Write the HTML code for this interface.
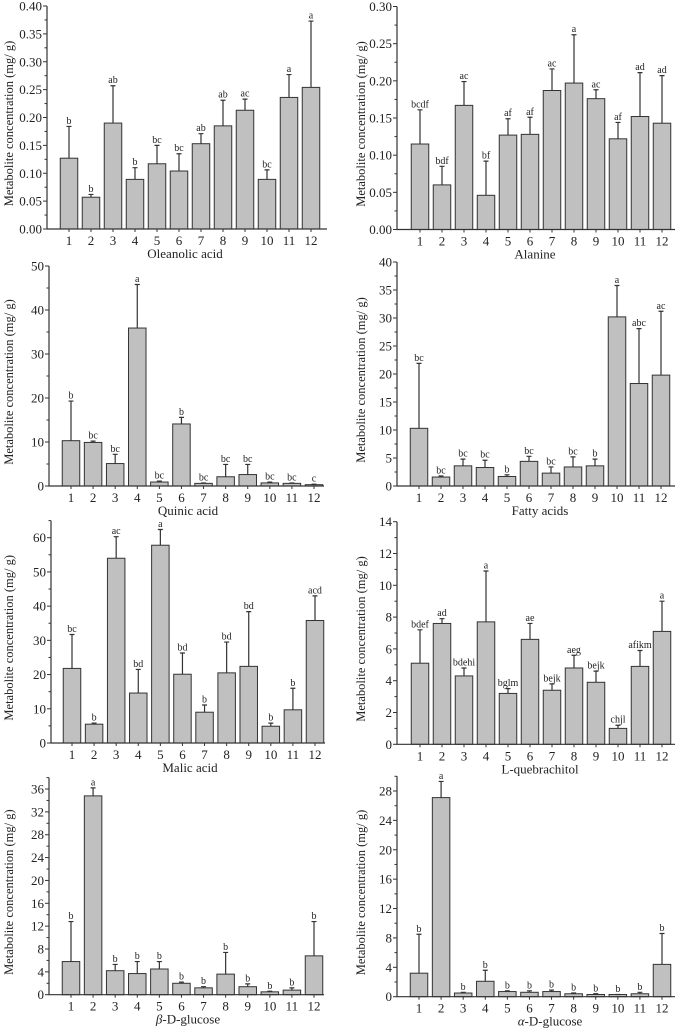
<!DOCTYPE html>
<html><head><meta charset="utf-8">
<style>
html,body{margin:0;padding:0;background:#fff;}
svg{display:block;font-family:"Liberation Serif","Times New Roman",serif;}
</style></head>
<body>
<svg id="fig" width="675" height="1029" viewBox="0 0 675 1029" xmlns="http://www.w3.org/2000/svg"></svg>
<script>
const categories = ["1","2","3","4","5","6","7","8","9","10","11","12"];
const titles = ["Oleanolic acid","Alanine","Quinic acid","Fatty acids","Malic acid","L-quebrachitol","β-D-glucose","α-D-glucose"];
const oleanolicMeans = [0.127,0.057,0.19,0.089,0.117,0.104,0.153,0.185,0.213,0.089,0.236,0.254];
const oleanolicErr = [0.184,0.062,0.257,0.110,0.150,0.135,0.171,0.231,0.233,0.106,0.277,0.373];
const oleanolicLetters = ["b","b","ab","b","bc","bc","ab","ab","ac","bc","a","a"];
const alanineMeans = [0.115,0.060,0.167,0.046,0.127,0.128,0.187,0.197,0.176,0.122,0.152,0.143];
const alanineErr = [0.161,0.085,0.199,0.092,0.149,0.151,0.216,0.262,0.188,0.144,0.211,0.207];
const alanineLetters = ["bcdf","bdf","ac","bf","af","af","ac","a","ac","af","ad","ad"];
const quinicMeans = [10.3,9.9,5.1,35.9,0.9,14.1,0.6,2.1,2.6,0.7,0.6,0.3];
const quinicErr = [19.3,10.2,7.2,45.8,1.1,15.6,0.7,4.9,4.9,0.9,0.7,0.4];
const quinicLetters = ["b","bc","bc","a","bc","b","bc","bc","bc","bc","bc","c"];
const fattyMeans = [10.3,1.6,3.6,3.3,1.7,4.4,2.3,3.4,3.6,30.2,18.3,19.8];
const fattyErr = [21.9,1.8,4.8,4.6,2.0,5.3,3.4,5.2,4.8,35.8,28.1,31.2];
const fattyLetters = ["bc","bc","bc","bc","b","bc","bc","bc","b","a","abc","ac"];
const malicMeans = [21.8,5.5,54,14.6,57.8,20.1,9.0,20.5,22.4,4.9,9.7,35.8];
const malicErr = [31.7,5.8,60.3,21.5,62.4,26.3,11.1,29.5,38.4,5.8,16.0,43.0];
const malicLetters = ["bc","b","ac","bd","a","bd","b","bd","bd","b","b","acd"];
const quebMeans = [5.1,7.6,4.3,7.7,3.2,6.6,3.4,4.8,3.9,1.0,4.9,7.1];
const quebErr = [7.2,7.9,4.8,10.9,3.5,7.6,3.8,5.6,4.6,1.2,5.9,9.0];
const quebLetters = ["bdef","ad","bdehi","a","bglm","ae","bejk","aeg","bejk","chjl","afikm","a"];
const betaMeans = [5.8,34.8,4.2,3.7,4.5,2.0,1.2,3.6,1.4,0.5,0.8,6.8];
const betaErr = [12.8,36.2,5.3,5.8,5.8,2.2,1.4,7.4,1.9,0.6,1.2,12.8];
const betaLetters = ["b","a","b","b","b","b","b","b","b","b","b","b"];
const alphaMeans = [3.2,27.1,0.5,2.1,0.7,0.6,0.7,0.4,0.3,0.3,0.4,4.4];
const alphaErr = [8.5,29.3,0.6,3.6,0.8,0.8,0.9,0.5,0.4,0.3,0.6,8.6];
const alphaLetters = ["b","a","b","b","b","b","b","b","b","b","b","b"];
const yTickSteps = [0.05,0.05,10,5,10,2,4,4];
const yMaxes = [0.40,0.30,50,40,65,14,38,30];

const NS="http://www.w3.org/2000/svg";
const svg=document.getElementById('fig');
function mk(tag,attrs,parent){const e=document.createElementNS(NS,tag);for(const k in attrs)e.setAttribute(k,attrs[k]);(parent||svg).appendChild(e);return e;}

const panels=[
 {m:oleanolicMeans,e:oleanolicErr,l:oleanolicLetters,x0:47,xEnd:327,yb:229,yt:6,b1:69,b12:311,tx:185,yl:9,dec:2},
 {m:alanineMeans,e:alanineErr,l:alanineLetters,x0:397,xEnd:675,yb:229.5,yt:6.5,b1:420,b12:662,tx:535,yl:361,dec:2},
 {m:quinicMeans,e:quinicErr,l:quinicLetters,x0:49,xEnd:324,yb:486,yt:266,b1:71,b12:314,tx:188,yl:9,dec:0},
 {m:fattyMeans,e:fattyErr,l:fattyLetters,x0:397,xEnd:675,yb:486,yt:262,b1:419,b12:661,tx:540,yl:361,dec:0},
 {m:malicMeans,e:malicErr,l:malicLetters,x0:51,xEnd:325,yb:743,yt:520.6,b1:72,b12:315,tx:190,yl:9,dec:0},
 {m:quebMeans,e:quebErr,l:quebLetters,x0:397,xEnd:675,yb:744.3,yt:521.7,b1:420,b12:662,tx:540,yl:361,dec:0},
 {m:betaMeans,e:betaErr,l:betaLetters,x0:49,xEnd:324,yb:994.7,yt:777.6,b1:71,b12:314,tx:188,yl:9,dec:0},
 {m:alphaMeans,e:alphaErr,l:alphaLetters,x0:397,xEnd:675,yb:996.7,yt:776.3,b1:419,b12:662,tx:550,yl:361,dec:0}
];

panels.forEach((p,pi)=>{
  const g=mk('g',{});
  
  
  const max=yMaxes[pi], step=yTickSteps[pi];
  const y=v=>p.yb-(v/max)*(p.yb-p.yt);
  const x=i=>p.b1+i*(p.b12-p.b1)/(categories.length-1);
  const bw=17.5;
  p.m.forEach((v,i)=>{
    const r=mk('rect',{x:x(i)-bw/2,y:y(v),width:bw,height:p.yb-y(v),fill:'#c0c0c0',stroke:'#333','stroke-width':1},g);
    
    
    const et=y(p.e[i]);
    const eb=mk('path',{d:`M${x(i)} ${y(v)}V${et}M${x(i)-2.5} ${et}H${x(i)+2.5}`,stroke:'#333','stroke-width':1.2,fill:'none'},g);
    
    
    const t=mk('text',{x:x(i),y:et-2.5,'font-size':10,'text-anchor':'middle',fill:'#222'},g);
    t.textContent=p.l[i];
    
    
    const xt=mk('text',{x:x(i),y:p.yb+16,'font-size':13,'text-anchor':'middle',fill:'#222'},g);
    xt.textContent=categories[i];
    
    
    mk('line',{x1:x(i),x2:x(i),y1:p.yb,y2:p.yb+3,stroke:'#333','stroke-width':1},g);
  });
  const ax=mk('path',{d:`M${p.x0} ${p.yt}V${p.yb}H${p.xEnd}`,stroke:'#333','stroke-width':1.2,fill:'none'},g);
  
  
  const n=Math.round(max/step*1000)/1000;
  for(let k=0;k<=Math.floor(n+1e-6);k++){
    const v=k*step, yy=y(v);
    mk('line',{x1:p.x0-4,x2:p.x0,y1:yy,y2:yy,stroke:'#333','stroke-width':1},g);
    const t=mk('text',{x:p.x0-5,y:yy+4.5,'font-size':13,'text-anchor':'end',fill:'#222'},g);
    t.textContent=v.toFixed(p.dec);
    
    
    const mv=v+step/2;
    if(mv<=max+1e-9){const my=y(mv);mk('line',{x1:p.x0-2.5,x2:p.x0,y1:my,y2:my,stroke:'#333','stroke-width':1},g);}
  }
  const tt=mk('text',{x:p.tx,y:p.yb+29,'font-size':13,'text-anchor':'middle',fill:'#222'},g);
  if(titles[pi].startsWith('β')||titles[pi].startsWith('α')){
    const s=mk('tspan',{'font-style':'italic'},tt);s.textContent=titles[pi][0];
    const s2=mk('tspan',{},tt);s2.textContent=titles[pi].slice(1);
  } else tt.textContent=titles[pi];
  
  
  const cy=(p.yb+p.yt)/2+6;
  const yt=mk('text',{x:0,y:0,'font-size':12.5,'text-anchor':'middle',fill:'#222',transform:`translate(${p.yl+4},${cy}) rotate(-90)`},g);
  yt.textContent='Metabolite concentration (mg/ g)';
  
  
});
</script>
</body></html>
